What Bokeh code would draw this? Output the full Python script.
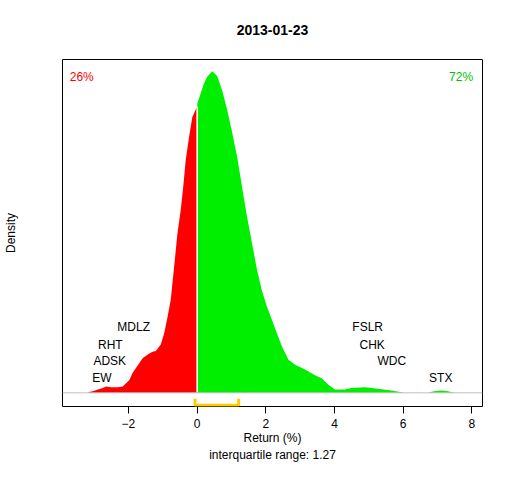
from bokeh.plotting import figure
from bokeh.models import Range1d, FixedTicker, LinearAxis
from bokeh.core.properties import value
from bokeh.embed import file_html
from bokeh.resources import INLINE

# ---- data ----
title_text = "2013-01-23"
# density of returns (%), left of zero (losers)
neg_x = [-3.16, -3.035, -2.89, -2.745, -2.65, -2.514, -2.311, -2.166, -1.972, -1.877,
         -1.781, -1.587, -1.393, -1.297, -1.202, -1.057, -0.959, -0.863, -0.767, -0.669,
         -0.573, -0.478, -0.400, -0.333, -0.235, -0.139, -0.043, 0.0]
neg_y = [0.001, 0.002, 0.004, 0.006, 0.008, 0.007, 0.007, 0.008, 0.016, 0.025,
         0.031, 0.043, 0.049, 0.051, 0.052, 0.060, 0.074, 0.094, 0.116, 0.157,
         0.198, 0.227, 0.258, 0.289, 0.318, 0.343, 0.352, 0.356]
# density right of zero (winners)
pos_x = [0.0, 0.006, 0.101, 0.200, 0.295, 0.440, 0.585, 0.730, 0.875, 1.019, 1.164,
         1.309, 1.454, 1.599, 1.744, 1.888, 2.033, 2.178, 2.323, 2.467, 2.661,
         2.853, 3.142, 3.432, 3.626, 3.820, 4.013, 4.301, 4.495, 4.880, 5.268,
         5.653, 6.038, 6.716, 6.898, 7.101, 7.304, 7.486]
pos_y = [0.356, 0.360, 0.372, 0.385, 0.393, 0.400, 0.394, 0.376, 0.352, 0.324, 0.294,
         0.256, 0.219, 0.186, 0.153, 0.127, 0.107, 0.091, 0.074, 0.058, 0.041,
         0.035, 0.029, 0.022, 0.018, 0.010, 0.004, 0.004, 0.006, 0.007, 0.005,
         0.003, 0.0, 0.0, 0.002, 0.003, 0.002, 0.0]
pct_down = "26%"
pct_up = "72%"
low_tickers = ["EW", "ADSK", "RHT", "MDLZ"]
low_returns = [-2.774, -2.543, -2.528, -1.848]
high_tickers = ["FSLR", "CHK", "WDC", "STX"]
high_returns = [4.967, 5.097, 5.668, 7.095]
q1, q3 = -0.06, 1.21
iqr_label = "interquartile range: 1.27"
x_ticks = [-2, 0, 2, 4, 6, 8]

FONT = "Liberation Sans"
RED = "#FF0000"
GREEN = "#00EE00"
GOLD = "#FFCC00"

p = figure(width=496, height=464, output_backend="svg", toolbar_location=None,
           x_range=Range1d(-3.92, 8.31), y_range=Range1d(-0.017, 0.4145),
           min_border_left=59, min_border_right=14, min_border_top=59, min_border_bottom=57)
p.grid.visible = False
p.outline_line_color = "black"
p.outline_line_width = 1
p.background_fill_color = "white"
p.border_fill_color = "white"
p.title.visible = False

xa = p.below[0]
ya = p.left[0]

# x axis (bottom)
xa.ticker = FixedTicker(ticks=x_ticks)
xa.axis_line_color = None
xa.major_tick_out = 7
xa.major_tick_in = 0
xa.major_tick_line_color = "black"
xa.minor_tick_line_color = None
xa.major_label_text_font = FONT
xa.major_label_text_font_size = "12px"
xa.major_label_text_color = "black"
xa.major_label_standoff = 5
xa.axis_label = "Return (%)"
xa.axis_label_text_font = FONT
xa.axis_label_text_font_size = "12px"
xa.axis_label_text_font_style = "normal"
xa.axis_label_text_color = "black"
xa.axis_label_standoff = 0

# second line under the x axis label
xa2 = LinearAxis(ticker=FixedTicker(ticks=[]), axis_line_color=None,
                 major_tick_line_color=None, minor_tick_line_color=None,
                 major_tick_out=0, major_tick_in=0, major_label_standoff=0,
                 major_label_text_font_size="0px",
                 axis_label=iqr_label, axis_label_text_font=FONT,
                 axis_label_text_font_size="12px", axis_label_text_font_style="normal",
                 axis_label_text_color="black", axis_label_standoff=0)
p.add_layout(xa2, "below")

# title drawn as the label of an empty axis above the frame
ta = LinearAxis(ticker=FixedTicker(ticks=[]), axis_line_color=None,
                major_tick_line_color=None, minor_tick_line_color=None,
                major_tick_out=0, major_tick_in=0, major_label_standoff=0,
                major_label_text_font_size="0px",
                axis_label=title_text, axis_label_text_font=FONT,
                axis_label_text_font_size="14px", axis_label_text_font_style="bold",
                axis_label_text_color="black", axis_label_standoff=25)
p.add_layout(ta, "above")

# y axis: label only
ya.ticker = FixedTicker(ticks=[])
ya.axis_line_color = None
ya.major_tick_line_color = None
ya.minor_tick_line_color = None
ya.major_label_text_font_size = "0px"
ya.axis_label = "Density"
ya.axis_label_text_font = FONT
ya.axis_label_text_font_size = "12px"
ya.axis_label_text_font_style = "normal"
ya.axis_label_text_color = "black"
ya.axis_label_standoff = 45

# density areas
p.varea(x=neg_x, y1=[0] * len(neg_x), y2=neg_y, fill_color=RED)
p.varea(x=pos_x, y1=[0] * len(pos_x), y2=pos_y, fill_color=GREEN)
# white split at zero
p.segment(x0=[0], y0=[0], x1=[0], y1=[pos_y[0]], line_color="white", line_width=1.5)
# baseline
p.line(x=[-3.92, 8.31], y=[0, 0], line_color="#BEBEBE", line_width=1)

# ticker labels
lvl = [0.019, 0.039, 0.060, 0.082]
p.text(x=low_returns, y=lvl, text=low_tickers, text_font=value(FONT),
       text_font_size="12px", text_align="center", text_baseline="middle", text_color="black")
p.text(x=high_returns, y=lvl[::-1], text=high_tickers, text_font=value(FONT),
       text_font_size="12px", text_align="center", text_baseline="middle", text_color="black")

# percentages
p.text(x=[-3.71], y=[0.393], text=[pct_down], text_font=value(FONT), text_font_size="12px",
       text_align="left", text_baseline="middle", text_color=RED)
p.text(x=[8.036], y=[0.393], text=[pct_up], text_font=value(FONT), text_font_size="12px",
       text_align="right", text_baseline="middle", text_color="#00C000")

# interquartile bracket
yb = -0.0155
ytop = -0.0075
p.line(x=[q1, q1, q3, q3], y=[ytop, yb, yb, ytop], line_color=GOLD, line_width=3)

open("out.html", "w").write(file_html(p, INLINE))
